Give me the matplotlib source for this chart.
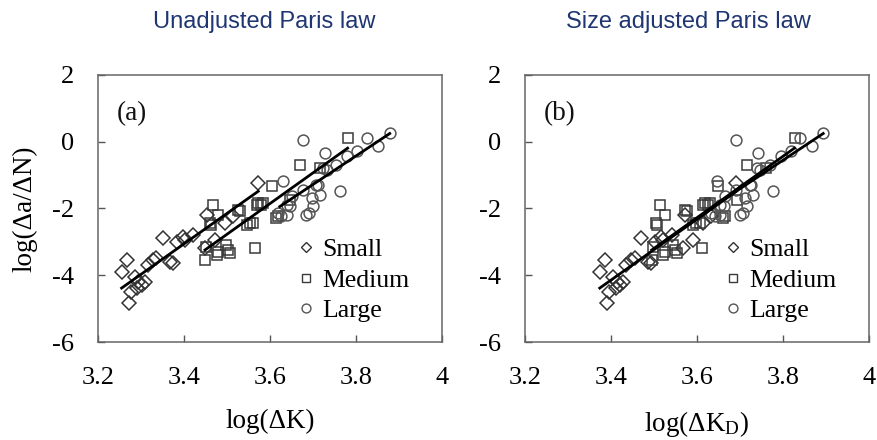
import matplotlib
matplotlib.use("Agg")
import matplotlib.pyplot as plt
import numpy as np
from matplotlib.lines import Line2D

plt.rcParams.update(
    {
        "font.family": ["Liberation Serif", "DejaVu Serif"],
        "axes.unicode_minus": False,
        "mathtext.fontset": "custom",
        "mathtext.rm": "Liberation Serif",
        "mathtext.it": "Liberation Serif:italic",
    }
)

# log(dK), log(da/dN)
SMALL_X = [3.255, 3.268, 3.273, 3.277, 3.286, 3.294, 3.302, 3.309, 3.292, 3.317,
           3.328, 3.336, 3.352, 3.367, 3.375, 3.383, 3.398, 3.402, 3.422, 3.449,
           3.453, 3.472, 3.495, 3.514, 3.573]
SMALL_Y = [-3.89, -3.54, -4.84, -4.49, -4.04, -4.19, -4.29, -4.19, -4.39, -3.69,
           -3.54, -3.49, -2.89, -3.59, -3.62, -2.99, -2.84, -2.94, -2.79, -3.19,
           -2.19, -2.94, -2.44, -2.24, -1.24]

MEDIUM_X = [3.449, 3.451, 3.460, 3.462, 3.468, 3.476, 3.480, 3.480, 3.499, 3.503,
            3.507, 3.526, 3.530, 3.546, 3.553, 3.561, 3.565, 3.569, 3.573, 3.580,
            3.585, 3.604, 3.615, 3.620, 3.647, 3.671, 3.716, 3.782]
MEDIUM_Y = [-3.54, -3.14, -2.44, -2.49, -1.89, -3.39, -3.29, -2.19, -3.09, -3.24,
            -3.34, -2.04, -2.09, -2.49, -2.44, -2.44, -3.19, -1.89, -1.84, -1.89,
            -1.84, -1.32, -2.29, -2.24, -1.74, -0.69, -0.79, 0.10]

LARGE_X = [3.619, 3.627, 3.631, 3.639, 3.639, 3.647, 3.651, 3.677, 3.677, 3.685,
           3.692, 3.697, 3.701, 3.708, 3.712, 3.716, 3.724, 3.728, 3.732, 3.755,
           3.763, 3.780, 3.803, 3.825, 3.852, 3.879]
LARGE_Y = [-2.14, -2.24, -1.19, -2.19, -1.89, -1.94, -1.64, 0.05, -1.44, -2.19,
           -2.14, -1.69, -1.94, -1.29, -1.29, -1.59, -0.79, -0.34, -0.84, -0.69,
           -1.49, -0.42, -0.29, 0.10, -0.13, 0.25]

# per-size shift of log(dK) giving log(dK_D)
SIZE_SHIFT = [0.119, 0.046, 0.015]

# Paris-law fits in panel (a): slope, intercept, fitted range
FIT_SLOPE = [9.12, 9.19, 8.55]
FIT_INTERCEPT = [-34.07, -34.94, -32.92]
FIT_XMIN = [3.255, 3.449, 3.623]
FIT_XMAX = [3.573, 3.781, 3.879]

LABELS = ["Small", "Medium", "Large"]
MARKERS = ["D", "s", "o"]
MSIZES = [6.8, 7.0, 7.8]
EDGE = ["#333333", "#3a3a3a", "#555555"]

TITLES = ["Unadjusted Paris law", "Size adjusted Paris law"]
XLABELS = ["log(ΔK)", "log(ΔK$_{\\mathrm{D}}$)"]
PANEL = ["(a)", "(b)"]
X_TICKS = [3.2, 3.4, 3.6, 3.8, 4.0]
X_TICKLABELS = ["3.2", "3.4", "3.6", "3.8", "4"]
Y_TICKS = [-6, -4, -2, 0, 2]

groups = [(SMALL_X, SMALL_Y), (MEDIUM_X, MEDIUM_Y), (LARGE_X, LARGE_Y)]

fig = plt.figure(figsize=(8.77, 4.40), dpi=100)
axes = [fig.add_axes([0.1117, 0.2227, 0.392, 0.607]),
        fig.add_axes([0.5986, 0.2227, 0.392, 0.607])]
title_x = [264 / 877, 688 / 877]

for p, ax in enumerate(axes):
    for g, (gx, gy) in enumerate(groups):
        shift = SIZE_SHIFT[g] if p == 1 else 0.0
        xs = np.array(gx) + shift
        ax.plot(xs, gy, linestyle="none", marker=MARKERS[g], ms=MSIZES[g],
                mfc="none", mec=EDGE[g], mew=1.1, zorder=2)
    for g in range(3):
        shift = SIZE_SHIFT[g] if p == 1 else 0.0
        xf = np.array([FIT_XMIN[g], FIT_XMAX[g]])
        yf = FIT_SLOPE[g] * xf + FIT_INTERCEPT[g]
        ax.plot(xf + shift, yf, color="black", lw=2.0, zorder=3)

    ax.set_xlim(3.2, 4.0)
    ax.set_ylim(-6, 2)
    ax.set_xticks(X_TICKS)
    ax.set_xticklabels(X_TICKLABELS)
    ax.set_yticks(Y_TICKS)
    ax.tick_params(direction="in", length=5, width=1, color="#555555",
                   labelsize=19)
    ax.tick_params(axis="x", pad=18)
    ax.tick_params(axis="y", pad=17)
    for s in ax.spines.values():
        s.set_color("#666666")
        s.set_linewidth(1.1)

    ax.set_xlabel(XLABELS[p], fontsize=19.5)
    ax.xaxis.set_label_coords(0.5, -0.25)
    ax.set_ylabel("log(Δa/ΔN)", fontsize=19.5)
    ax.yaxis.set_label_coords(-0.175, 0.5)
    if p == 1:
        ax.yaxis.label.set_visible(False)

    ax.text(0.055, 0.855, PANEL[p], transform=ax.transAxes, fontsize=19.5,
            ha="left", va="center", color="#111111")

    handles = [Line2D([], [], linestyle="none", marker=MARKERS[g], ms=MSIZES[g] * 0.82,
                      mfc="none", mec=EDGE[g], mew=1.0) for g in range(3)]
    ax.legend(handles, LABELS, loc="center left", bbox_to_anchor=(0.578, 0.232),
              frameon=False, fontsize=18.5, handlelength=0.7, handletextpad=0.3,
              labelspacing=0.3, borderpad=0, borderaxespad=0)

    fig.text(title_x[p], 1 - 22 / 440, TITLES[p], ha="center", va="center",
             fontsize=17, color="#1f3673",
             family=["Liberation Sans", "DejaVu Sans"])

fig.savefig("out.png", dpi=100)
